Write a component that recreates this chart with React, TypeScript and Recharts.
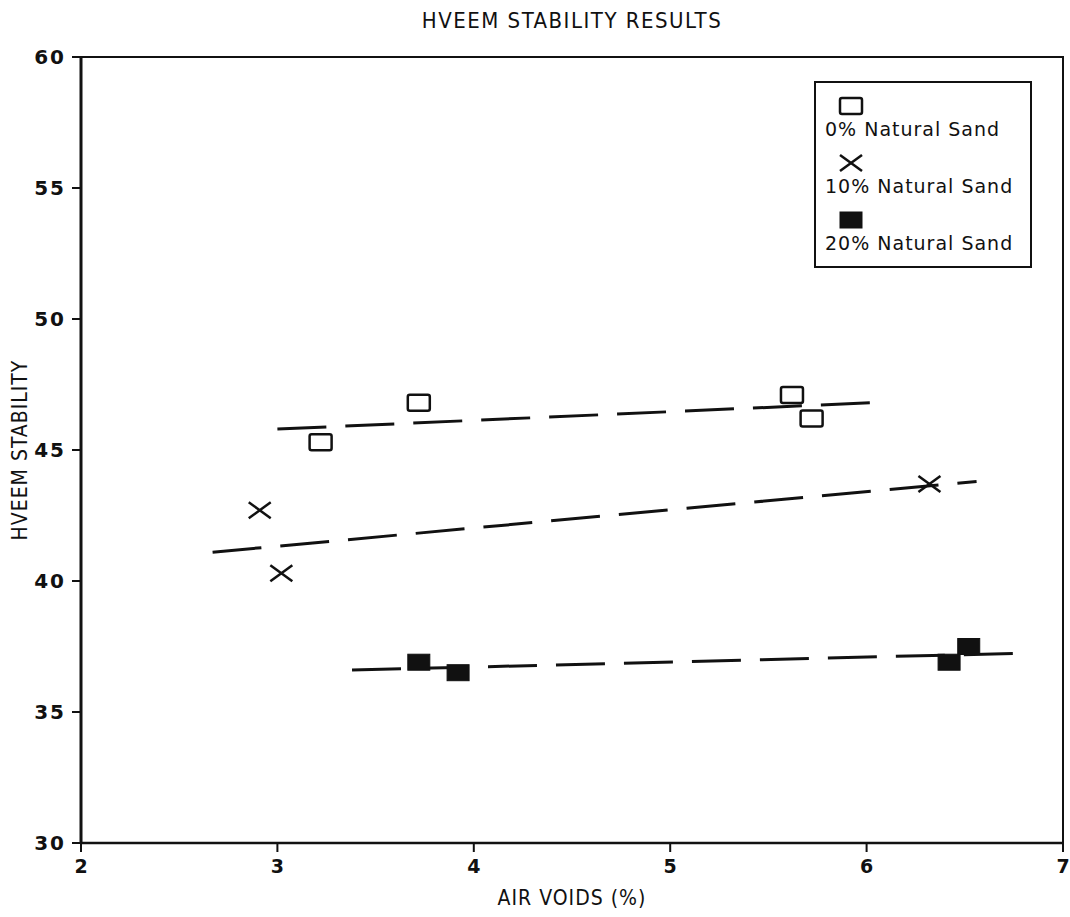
import React from "react";
import {
  ScatterChart,
  Scatter,
  XAxis,
  YAxis,
  Legend,
  ReferenceArea,
} from "recharts";

// ── Data ───────────────────────────────────────────────────────────

const X_TICKS = [2, 3, 4, 5, 6, 7];
const Y_TICKS = [30, 35, 40, 45, 50, 55, 60];

const SAND0_X = [3.22, 3.72, 5.62, 5.72];
const SAND0_Y = [45.3, 46.8, 47.1, 46.2];
const SAND10_X = [2.91, 3.02, 6.32];
const SAND10_Y = [42.7, 40.3, 43.7];
const SAND20_X = [3.72, 3.92, 6.42, 6.52];
const SAND20_Y = [36.9, 36.5, 36.9, 37.5];

// dashed fit lines (end points)
const FIT0_X = [3.0, 6.02];
const FIT0_Y = [45.8, 46.8];
const FIT10_X = [2.67, 6.56];
const FIT10_Y = [41.1, 43.8];
const FIT20_X = [3.38, 6.82];
const FIT20_Y = [36.6, 37.25];

const zip = (xs: number[], ys: number[]) => xs.map((x, i) => ({ x, y: ys[i] }));

const FONT = "'DejaVu Sans', 'Liberation Sans', sans-serif";
const NARROW = "'DejaVu Sans Condensed', 'Liberation Sans Narrow', 'DejaVu Sans', sans-serif";
const INK = "#111";

// ── Markers ────────────────────────────────────────────────────────

// eslint-disable-next-line @typescript-eslint/no-explicit-any
const OpenSquare = (p: any) => (
  <rect x={p.cx - 11} y={p.cy - 8} width={22} height={16} rx={2} fill="#fff" stroke={INK} strokeWidth={2.5} />
);
// eslint-disable-next-line @typescript-eslint/no-explicit-any
const Cross = (p: any) => (
  <g stroke={INK} strokeWidth={2.5}>
    <line x1={p.cx - 11} y1={p.cy - 8} x2={p.cx + 11} y2={p.cy + 8} />
    <line x1={p.cx - 11} y1={p.cy + 8} x2={p.cx + 11} y2={p.cy - 8} />
  </g>
);
// eslint-disable-next-line @typescript-eslint/no-explicit-any
const FilledSquare = (p: any) => (
  <rect x={p.cx - 11} y={p.cy - 8} width={22} height={16} fill={INK} stroke={INK} strokeWidth={1} />
);
const NoDot = () => <g />;

const fitLine = { stroke: INK, strokeWidth: 3, strokeDasharray: "49 19" };

const LEGEND_ICONS: Record<string, (cx: number, cy: number) => React.ReactNode> = {
  "0% Natural Sand": (cx, cy) => <OpenSquare cx={cx} cy={cy} />,
  "10% Natural Sand": (cx, cy) => <Cross cx={cx} cy={cy} />,
  "20% Natural Sand": (cx, cy) => <FilledSquare cx={cx} cy={cy} />,
};

// eslint-disable-next-line @typescript-eslint/no-explicit-any
function renderLegend(props: any) {
  const items = (props.payload ?? []).filter((e: any) => LEGEND_ICONS[e.value]);
  return (
    <div style={{ border: `2px solid ${INK}`, width: 218, height: 187, padding: "10px 0 0 9px", boxSizing: "border-box", fontFamily: FONT, background: "#fff" }}>
      {items.map((e: any) => (
        <div key={e.value} style={{ height: 57 }}>
          <svg width={60} height={24} style={{ display: "block" }}>
            {LEGEND_ICONS[e.value](26, 13)}
          </svg>
          <div style={{ fontSize: 19, letterSpacing: 1, color: INK, lineHeight: "24px", whiteSpace: "nowrap" }}>{e.value}</div>
        </div>
      ))}
    </div>
  );
}

// ── Chart ──────────────────────────────────────────────────────────

export default function App() {
  const yTickStyle = { fontSize: 20, fontWeight: 700, fill: INK, fontFamily: FONT, letterSpacing: 2 };
  const xTickStyle = { fontSize: 19, fontWeight: 700, fill: INK, fontFamily: FONT };
  const labelStyle = { fontSize: 21, fill: INK, fontFamily: NARROW, letterSpacing: 1 };
  return (
    <div style={{ position: "absolute", left: 0, top: 0, width: 1070, height: 917, background: "#fff" }}>
      <div style={{ position: "absolute", left: 81, width: 982, top: 8, textAlign: "center", fontFamily: NARROW, fontSize: 22, letterSpacing: 1.5, color: INK, lineHeight: "26px" }}>
        HVEEM STABILITY RESULTS
      </div>
      <ScatterChart width={1070} height={917} margin={{ top: 57, right: 7, bottom: 0, left: 0 }}>
        <XAxis
          type="number"
          dataKey="x"
          domain={[2, 7]}
          ticks={X_TICKS}
          allowDataOverflow
          height={74}
          tick={xTickStyle}
          tickSize={9}
          tickMargin={8}
          axisLine={{ stroke: INK, strokeWidth: 2.5 }}
          tickLine={{ stroke: INK, strokeWidth: 2 }}
          label={{ value: "AIR VOIDS (%)", position: "insideBottom", offset: 12, style: labelStyle }}
        />
        <YAxis
          type="number"
          dataKey="y"
          domain={[30, 60]}
          ticks={Y_TICKS}
          allowDataOverflow
          width={81}
          tick={yTickStyle}
          tickSize={9}
          tickMargin={6}
          axisLine={{ stroke: INK, strokeWidth: 3 }}
          tickLine={{ stroke: INK, strokeWidth: 2 }}
          label={{
            // eslint-disable-next-line @typescript-eslint/no-explicit-any
            content: ({ viewBox }: any) => {
              const cy = viewBox.y + viewBox.height / 2;
              return (
                <text x={20} y={cy} transform={`rotate(-90, 20, ${cy})`} textAnchor="middle" dominantBaseline="central" style={labelStyle}>
                  HVEEM STABILITY
                </text>
              );
            },
          }}
        />
        <ReferenceArea x1={2} x2={7} y1={30} y2={60} fill="none" stroke={INK} strokeWidth={2} />
        <Legend
          layout="horizontal"
          verticalAlign="middle"
          align="center"
          content={renderLegend}
          wrapperStyle={{ left: 814, top: 81, width: 218, height: 187 }}
        />
        <Scatter name="fit0" data={zip(FIT0_X, FIT0_Y)} line={fitLine} shape={NoDot} legendType="none" isAnimationActive={false} />
        <Scatter name="fit10" data={zip(FIT10_X, FIT10_Y)} line={fitLine} shape={NoDot} legendType="none" isAnimationActive={false} />
        <Scatter name="fit20" data={zip(FIT20_X, FIT20_Y)} line={fitLine} shape={NoDot} legendType="none" isAnimationActive={false} />
        <Scatter name="0% Natural Sand" data={zip(SAND0_X, SAND0_Y)} shape={OpenSquare} fill={INK} isAnimationActive={false} />
        <Scatter name="10% Natural Sand" data={zip(SAND10_X, SAND10_Y)} shape={Cross} fill={INK} isAnimationActive={false} />
        <Scatter name="20% Natural Sand" data={zip(SAND20_X, SAND20_Y)} shape={FilledSquare} fill={INK} isAnimationActive={false} />
      </ScatterChart>
    </div>
  );
}
